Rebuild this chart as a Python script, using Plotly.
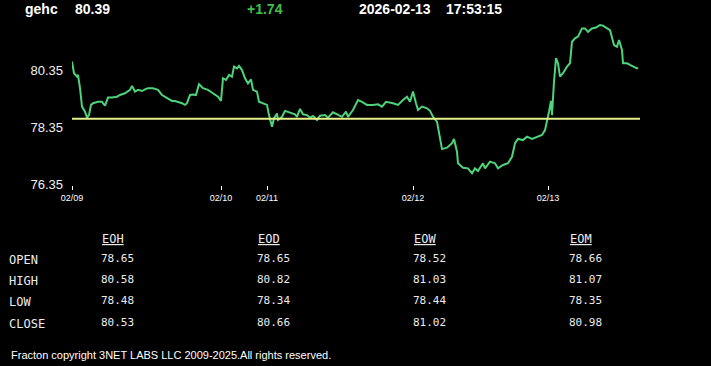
import plotly.graph_objects as go

# ---- data ----
symbol = "gehc"
last_price = "80.39"
change = "+1.74"
date_str = "2026-02-13"
time_str = "17:53:15"
open_price = 78.65

bar_index = [0, 2, 5, 6, 8, 10, 13, 15, 17, 19, 21, 26, 30, 33, 36, 40, 45, 48, 53, 58,
             60, 63, 66, 70, 73, 76, 81, 86, 90, 95, 100, 103, 106, 110, 113, 115, 118, 121, 124, 127,
             131, 136, 141, 146, 149, 151, 154, 157, 160, 162, 165, 167, 170, 173, 176, 179, 181, 185, 187, 191,
             195, 197, 200, 202, 205, 206, 210, 213, 218, 223, 225, 228, 231, 235, 238, 241, 245, 248, 253, 256,
             261, 265, 270, 274, 276, 281, 286, 290, 295, 301, 306, 310, 314, 321, 326, 331, 335, 338, 341, 344,
             346, 350, 355, 358, 361, 365, 368, 370, 375, 380, 382, 385, 386, 391, 396, 400, 403, 406, 411, 413,
             418, 423, 426, 431, 436, 440, 443, 446, 451, 455, 460, 465, 470, 473, 475, 477, 479, 480, 482, 484,
             486, 488, 491, 495, 498, 500, 503, 506, 510, 513, 516, 520, 524, 528, 531, 535, 538, 542, 545, 547,
             550, 551, 555, 558, 561, 565, 566]
price = [80.67, 80.26, 80.14, 80.20, 79.73, 79.08, 78.90, 78.69, 78.78, 79.14, 79.20, 79.25, 79.25, 79.11, 79.40, 79.40, 79.43, 79.49, 79.55, 79.67,
         79.81, 79.61, 79.67, 79.63, 79.69, 79.73, 79.73, 79.67, 79.49, 79.37, 79.28, 79.28, 79.25, 79.20, 79.14, 79.20, 79.49, 79.51, 79.49, 79.87,
         79.73, 79.67, 79.55, 79.43, 79.28, 80.08, 80.02, 80.20, 80.14, 80.49, 80.43, 80.52, 80.37, 80.08, 79.90, 80.04, 79.67, 79.61, 79.25, 79.20,
         79.14, 78.78, 78.37, 78.67, 78.84, 78.61, 78.72, 78.93, 78.88, 78.81, 78.72, 79.00, 78.81, 78.78, 78.69, 78.75, 78.61, 78.76, 78.78, 78.69,
         78.88, 78.81, 78.72, 78.90, 78.72, 78.96, 79.31, 79.25, 79.14, 79.14, 79.16, 79.08, 79.25, 79.20, 79.14, 79.31, 79.43, 79.25, 79.61, 79.20,
         78.96, 79.08, 79.02, 78.93, 78.72, 78.55, 77.90, 77.58, 77.63, 77.79, 77.94, 77.49, 77.08, 76.92, 76.90, 76.73, 76.90, 76.81, 77.08, 76.90,
         77.14, 77.08, 76.90, 77.02, 77.08, 77.31, 77.79, 77.94, 77.90, 78.02, 77.94, 78.02, 78.08, 78.25, 78.55, 78.90, 79.28, 78.78, 79.96, 80.79,
         80.61, 80.14, 80.26, 80.49, 80.61, 81.37, 81.49, 81.55, 81.84, 81.84, 81.72, 81.84, 81.87, 81.96, 81.94, 81.84, 81.78, 81.25, 81.19, 81.43,
         81.08, 80.61, 80.61, 80.55, 80.49, 80.43, 80.45]

day_tick_index = [0, 149, 195, 341, 476]
day_tick_labels = ["02/09", "02/10", "02/11", "02/12", "02/13"]
y_tick_values = [76.35, 78.35, 80.35]
y_tick_labels = ["76.35", "78.35", "80.35"]

table_columns = ["EOH", "EOD", "EOW", "EOM"]
table_rows = ["OPEN", "HIGH", "LOW", "CLOSE"]
eoh_values = ["78.65", "80.58", "78.48", "80.53"]
eod_values = ["78.65", "80.82", "78.34", "80.66"]
eow_values = ["78.52", "81.03", "78.44", "81.02"]
eom_values = ["78.66", "81.07", "78.35", "80.98"]
footer = "Fracton copyright 3NET LABS LLC 2009-2025.All rights reserved."

# ---- layout geometry ----
W, H = 711, 366
L, R, T, B = 72, 640, 20, 185


def px(x):
    return (x - L) / (R - L)


def py(y):
    return (B - y) / (B - T)


fig = go.Figure()
fig.add_trace(go.Scatter(x=bar_index, y=price, mode="lines",
                         line=dict(color="#4fd27c", width=2), hoverinfo="skip"))
fig.add_shape(type="line", xref="x", yref="y", x0=0, x1=568, y0=open_price, y1=open_price,
              line=dict(color="#e4f08a", width=2))

ann = []
hdr_font = dict(family="Liberation Sans, Arial", size=14, color="#ffffff")
for text, x, color in [(symbol, 23, "#ffffff"), (last_price, 73, "#ffffff"), (change, 245, "#3fc04a"),
                       (date_str, 357, "#ffffff"), (time_str, 444, "#ffffff")]:
    ann.append(dict(text="<b>%s</b>" % text, x=px(x), y=py(8.5), xref="paper", yref="paper",
                    xanchor="left", yanchor="middle", showarrow=False,
                    font=dict(hdr_font, color=color)))

mono_lbl = dict(family="DejaVu Sans Mono, monospace", size=12, color="#ececec")
mono_val = dict(family="DejaVu Sans Mono, monospace", size=11, color="#ececec")
col_x = [100, 256, 412, 568]
row_y = [259.7, 280.5, 302.3, 324.3]
for cx, name in zip(col_x, table_columns):
    ann.append(dict(text="<u>%s</u>" % name, x=px(cx), y=py(238.5), xref="paper", yref="paper",
                    xanchor="left", yanchor="middle", showarrow=False, font=mono_lbl))
for ry, name in zip(row_y, table_rows):
    ann.append(dict(text=name, x=px(7), y=py(ry), xref="paper", yref="paper",
                    xanchor="left", yanchor="middle", showarrow=False, font=mono_lbl))
for cx, vals in zip(col_x, [eoh_values, eod_values, eow_values, eom_values]):
    for ry, v in zip(row_y, vals):
        ann.append(dict(text=v, x=px(cx - 1), y=py(ry - 1.5), xref="paper", yref="paper",
                        xanchor="left", yanchor="middle", showarrow=False, font=mono_val))

ann.append(dict(text=footer, x=px(9), y=py(355), xref="paper", yref="paper",
                xanchor="left", yanchor="middle", showarrow=False,
                font=dict(family="Liberation Sans, Arial", size=11, color="#ffffff")))

fig.update_layout(
    width=W, height=H,
    margin=dict(l=L, r=W - R, t=T, b=H - B, pad=0),
    paper_bgcolor="#000000", plot_bgcolor="#000000",
    showlegend=False,
    annotations=ann,
    xaxis=dict(range=[0, 568], tickmode="array", tickvals=day_tick_index, ticktext=day_tick_labels,
               ticks="outside", ticklen=4, tickwidth=1, tickcolor="#ffffff",
               showgrid=False, zeroline=False, showline=False,
               tickfont=dict(family="Liberation Sans, Arial", size=9, color="#ffffff")),
    yaxis=dict(range=[76.313, 82.137], tickmode="array", tickvals=y_tick_values, ticktext=y_tick_labels,
               ticks="", showgrid=False, zeroline=False, showline=False, ticklabelstandoff=8,
               tickfont=dict(family="Liberation Sans, Arial", size=13, color="#f0f0f0")),
)

fig.write_html("out.html", config={"displayModeBar": False},
               post_script="document.body.style.margin='0';document.body.style.background='#000';")
